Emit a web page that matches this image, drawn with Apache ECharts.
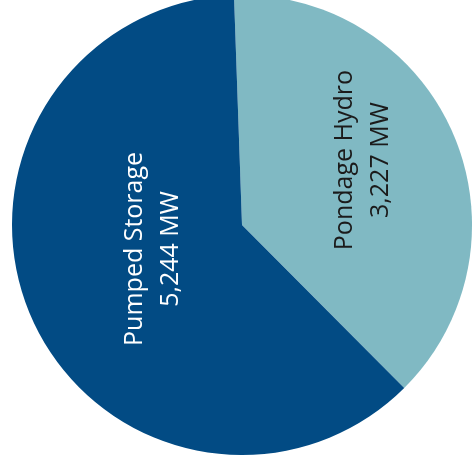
<!DOCTYPE html>
<html>
<head>
<meta charset="utf-8">
<style>
  html, body { margin: 0; padding: 0; background: #ffffff; }
  #chart { width: 473px; height: 473px; }
</style>
<script src="https://cdn.jsdelivr.net/npm/echarts@6/dist/echarts.min.js"></script>
</head>
<body>
<div id="chart"></div>
<script>
// Installed hydro storage capacity, MW
const categories = ['Pondage Hydro', 'Pumped Storage'];
const capacityMW = [3227, 5244];
const sliceColors = ['#80b9c3', '#024b84'];
const labelColors = ['#1b1b1b', '#ffffff'];

const fmt = new Intl.NumberFormat('en-US');

const chart = echarts.init(document.getElementById('chart'), null, { renderer: 'canvas' });

chart.setOption({
  backgroundColor: '#ffffff',
  animation: false,
  series: [{
    type: 'pie',
    center: [242, 225],
    radius: [0, 230],
    startAngle: 92,
    clockwise: true,
    avoidLabelOverlap: false,
    label: {
      show: true,
      position: 'inside',
      rotate: 90,
      fontFamily: 'Open Sans',
      fontSize: 25,
      lineHeight: 36,
      align: 'center',
      verticalAlign: 'middle',
      formatter: p => p.name + '\n' + fmt.format(p.value) + ' MW'
    },
    labelLine: { show: false },
    labelLayout: function (params) {
      // offsets are in the rotated text frame
      return params.dataIndex === 0 ? { dx: 18, dy: 13 } : { dx: 23, dy: 19 };
    },
    itemStyle: { borderWidth: 0 },
    emphasis: { disabled: true },
    data: categories.map((name, i) => ({
      name: name,
      value: capacityMW[i],
      itemStyle: { color: sliceColors[i] },
      label: { color: labelColors[i] }
    }))
  }]
});
</script>
</body>
</html>
